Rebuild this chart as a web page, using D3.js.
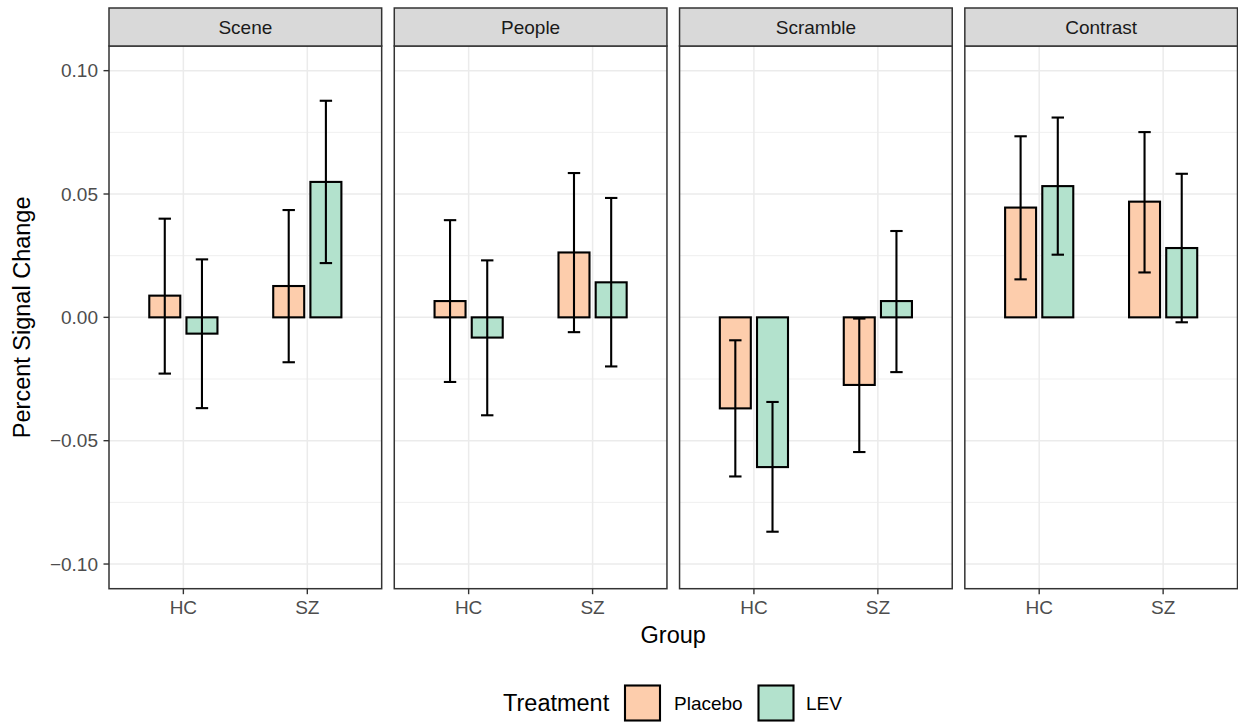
<!DOCTYPE html>
<html>
<head>
<meta charset="utf-8">
<script src="https://cdn.jsdelivr.net/npm/d3@7"></script>
<style>
  html, body { margin: 0; padding: 0; background: #fff; }
  svg { display: block; }
  text { font-family: "Liberation Sans", Arial, Helvetica, sans-serif; }
</style>
</head>
<body>
<svg id="chart" width="1238" height="723"></svg>
<script>
// Percent signal change by region, group and treatment (mean with error bars)
const facets = ["Scene", "People", "Scramble", "Contrast"];
const groups = ["HC", "SZ"];
const treatments = ["Placebo", "LEV"];
const treatmentColors = ["#FDCDAC", "#B3E2CD"];

// One row per facet, values in order [HC, SZ]
const placeboMean  = [[0.0088, 0.0127], [0.0066, 0.0263], [-0.0369, -0.0274], [0.0445, 0.0469]];
const placeboLower = [[-0.0228, -0.0182], [-0.0262, -0.0060], [-0.0645, -0.0546], [0.0154, 0.0182]];
const placeboUpper = [[0.0400, 0.0435], [0.0394, 0.0585], [-0.0093, -0.0005], [0.0734, 0.0751]];

const levMean  = [[-0.0066, 0.0549], [-0.0082, 0.0142], [-0.0607, 0.0066], [0.0532, 0.0281]];
const levLower = [[-0.0368, 0.0220], [-0.0397, -0.0199], [-0.0869, -0.0222], [0.0254, -0.0020]];
const levUpper = [[0.0235, 0.0878], [0.0231, 0.0484], [-0.0343, 0.0350], [0.0810, 0.0582]];

const yTicks = [-0.10, -0.05, 0.00, 0.05, 0.10];
const yMinor = [-0.075, -0.025, 0.025, 0.075];

const means = [placeboMean, levMean];
const lowers = [placeboLower, levLower];
const uppers = [placeboUpper, levUpper];

const rows = [];
facets.forEach((f, fi) => {
  groups.forEach((g, gi) => {
    treatments.forEach((t, ti) => {
      rows.push({ facet: f, fi, group: g, gi, treatment: t, ti,
                  mean: means[ti][fi][gi], lo: lowers[ti][fi][gi], hi: uppers[ti][fi][gi] });
    });
  });
});

const svg = d3.select("#chart");

// Layout
const plotLeft = 109, plotRight = 1237.5;
const gap = 12.6;
const panelW = (plotRight - plotLeft - gap * (facets.length - 1)) / facets.length;
const stripTop = 8, stripH = 38;
const panelTop = stripTop + stripH, panelBottom = 588.7;

const smallFont = 19, titleFont = 23.5;

const y = d3.scaleLinear().domain([-0.11, 0.11]).range([panelBottom, panelTop]);
// Discrete x positions with 0.6 expansion on each side
const x = d3.scaleLinear().domain([0.4, 2.6]).range([0, panelW]);
const barW = 0.25, dodge = 0.15, capW = 0.1;
const markStroke = 2.1;

const gridColor = "#EBEBEB";
const frameColor = "#333333";

facets.forEach((f, fi) => {
  const px = plotLeft + fi * (panelW + gap);
  const g = svg.append("g").attr("transform", `translate(${px},0)`);

  // panel background
  g.append("rect").attr("x", 0).attr("y", panelTop).attr("width", panelW)
    .attr("height", panelBottom - panelTop).attr("fill", "#fff");

  // minor grid
  g.selectAll(".minor").data(yMinor).enter().append("line")
    .attr("x1", 0).attr("x2", panelW)
    .attr("y1", d => y(d)).attr("y2", d => y(d))
    .attr("stroke", gridColor).attr("stroke-width", 0.8);
  // major grid
  g.selectAll(".major").data(yTicks).enter().append("line")
    .attr("x1", 0).attr("x2", panelW)
    .attr("y1", d => y(d)).attr("y2", d => y(d))
    .attr("stroke", gridColor).attr("stroke-width", 1.5);
  g.selectAll(".vmajor").data(groups).enter().append("line")
    .attr("x1", (d, i) => x(i + 1)).attr("x2", (d, i) => x(i + 1))
    .attr("y1", panelTop).attr("y2", panelBottom)
    .attr("stroke", gridColor).attr("stroke-width", 1.5);

  const data = rows.filter(r => r.fi === fi);
  const cx = d => x(d.gi + 1 + (d.ti === 0 ? -dodge : dodge));

  // bars
  g.selectAll(".bar").data(data).enter().append("rect")
    .attr("x", d => cx(d) - (x(barW) - x(0)) / 2)
    .attr("width", x(barW) - x(0))
    .attr("y", d => Math.min(y(d.mean), y(0)))
    .attr("height", d => Math.abs(y(d.mean) - y(0)))
    .attr("fill", d => treatmentColors[d.ti])
    .attr("stroke", "#000").attr("stroke-width", markStroke);

  // error bars
  const eb = g.selectAll(".err").data(data).enter().append("g");
  eb.append("line")
    .attr("x1", cx).attr("x2", cx)
    .attr("y1", d => y(d.lo)).attr("y2", d => y(d.hi))
    .attr("stroke", "#000").attr("stroke-width", markStroke);
  ["lo", "hi"].forEach(k => {
    eb.append("line")
      .attr("x1", d => cx(d) - (x(capW) - x(0)) / 2)
      .attr("x2", d => cx(d) + (x(capW) - x(0)) / 2)
      .attr("y1", d => y(d[k])).attr("y2", d => y(d[k]))
      .attr("stroke", "#000").attr("stroke-width", markStroke);
  });

  // panel border
  g.append("rect").attr("x", 0).attr("y", panelTop).attr("width", panelW)
    .attr("height", panelBottom - panelTop).attr("fill", "none")
    .attr("stroke", frameColor).attr("stroke-width", 1.5);

  // strip
  g.append("rect").attr("x", 0).attr("y", stripTop).attr("width", panelW)
    .attr("height", stripH).attr("fill", "#D9D9D9")
    .attr("stroke", frameColor).attr("stroke-width", 1.5);
  g.append("text").attr("x", panelW / 2).attr("y", stripTop + stripH / 2)
    .attr("dy", "0.35em").attr("text-anchor", "middle")
    .attr("font-size", smallFont).attr("fill", "#1A1A1A").text(f);

  // x axis
  const xAxis = g.append("g").attr("transform", `translate(0,${panelBottom})`);
  groups.forEach((gr, i) => {
    xAxis.append("line").attr("x1", x(i + 1)).attr("x2", x(i + 1))
      .attr("y1", 0).attr("y2", 5.5).attr("stroke", frameColor).attr("stroke-width", 1.4);
    xAxis.append("text").attr("x", x(i + 1)).attr("y", 11.5).attr("dy", "0.71em")
      .attr("text-anchor", "middle").attr("font-size", smallFont).attr("fill", "#4D4D4D").text(gr);
  });
});

// y axis on first panel
const yAxis = svg.append("g").attr("transform", `translate(${plotLeft},0)`);
yTicks.forEach(t => {
  yAxis.append("line").attr("x1", -5.5).attr("x2", 0)
    .attr("y1", y(t)).attr("y2", y(t)).attr("stroke", frameColor).attr("stroke-width", 1.4);
  yAxis.append("text").attr("x", -11).attr("y", y(t)).attr("dy", "0.35em")
    .attr("text-anchor", "end").attr("font-size", smallFont).attr("fill", "#4D4D4D")
    .text(d3.format(".2f")(t).replace("-", "\u2212"));
});

// axis titles
svg.append("text")
  .attr("transform", `translate(30,${(panelTop + panelBottom) / 2}) rotate(-90)`)
  .attr("text-anchor", "middle").attr("font-size", titleFont).attr("fill", "#000")
  .text("Percent Signal Change");
svg.append("text").attr("x", (plotLeft + plotRight) / 2).attr("y", 642.5)
  .attr("text-anchor", "middle").attr("font-size", titleFont).attr("fill", "#000")
  .text("Group");

// legend
const legY = 703;
const leg = svg.append("g");
leg.append("text").attr("x", 503).attr("y", legY).attr("dy", "0.35em")
  .attr("font-size", titleFont).attr("fill", "#000").text("Treatment");
const keyX = [625, 758.5], labX = [674, 806];
treatments.forEach((t, i) => {
  leg.append("rect").attr("x", keyX[i]).attr("y", legY - 17.5).attr("width", 35).attr("height", 35)
    .attr("fill", treatmentColors[i]).attr("stroke", "#000").attr("stroke-width", markStroke);
  leg.append("text").attr("x", labX[i]).attr("y", legY).attr("dy", "0.35em")
    .attr("font-size", smallFont).attr("fill", "#000").text(t);
});
</script>
</body>
</html>
